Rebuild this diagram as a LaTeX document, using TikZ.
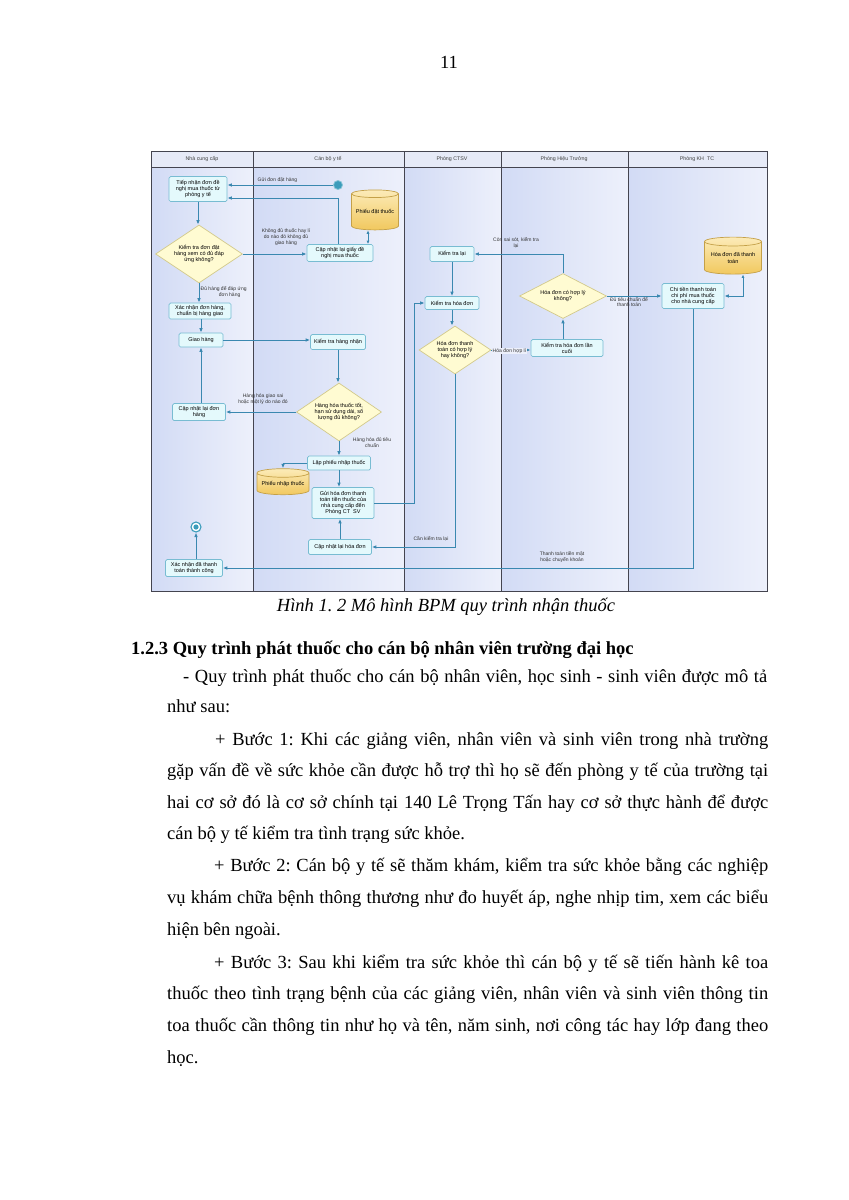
\documentclass[tikz,border=0pt]{standalone}
\usepackage{fontspec}
\setmainfont{Liberation Serif}
\newfontfamily\dfont{Liberation Sans}
\usetikzlibrary{shapes.geometric,arrows.meta}
\definecolor{laneL}{HTML}{D2DBF5}
\definecolor{laneR}{HTML}{EDF0FB}
\definecolor{hdrf}{HTML}{E6EAF7}
\definecolor{framec}{HTML}{44444F}
\definecolor{taskd}{HTML}{78BCD2}
\definecolor{taskf}{HTML}{E4F9FC}
\definecolor{decd}{HTML}{D2C98A}
\definecolor{decf}{HTML}{FFFBD2}
\definecolor{stored}{HTML}{C4A048}
\definecolor{storeT}{HTML}{FCEBB8}
\definecolor{storeB}{HTML}{F1C85E}
\definecolor{flowc}{HTML}{3A88B0}
\definecolor{startc}{HTML}{3B9CBB}
\frenchspacing
\begin{document}
\begin{tikzpicture}[x=1pt,y=-1pt,
  dtext/.style={font=\dfont\fontsize{5.5}{6.3}\selectfont},
  task/.style={dtext, draw=taskd, fill=taskf, rounded corners=1.5pt, line width=0.7pt, align=center, inner sep=0pt},
  decision/.style={dtext, diamond, draw=decd, fill=decf, line width=0.7pt, align=center, inner sep=0pt, aspect=1.5},
  store/.style={dtext, cylinder, shape border rotate=90, aspect=0.2, draw=stored, top color=storeT, bottom color=storeB, line width=0.7pt, align=center, inner sep=0pt},
  flow/.style={draw=flowc, line width=0.9pt, -{Latex[length=4.5pt,width=3.6pt]}},
  lbl/.style={font=\dfont\fontsize{5}{5.8}\selectfont, align=center, inner sep=0.5pt, text=black!80},
  hdr/.style={font=\dfont\fontsize{5.3}{6}\selectfont, text=black!75},
  body/.style={anchor=base west, inner sep=0pt, font=\fontsize{18.5}{22}\selectfont}
]
\useasboundingbox (0,0) rectangle (849,1200);
\fill[white] (0,0) rectangle (849,1200);

% page number
\node[anchor=base, inner sep=0pt, font=\fontsize{18.5}{22}\selectfont] (pg) at (449,68) {11};

% lanes
\foreach \a/\b in {151/253,253/404,404/501,501/628,628/767}{
  \shade[left color=laneL, right color=laneR] (\a,167) rectangle (\b,591);
}
\fill[hdrf] (151,151) rectangle (767,167);
\draw[framec, line width=1pt] (151,151) rectangle (767,591);
\draw[framec, line width=0.7pt] (151,167) -- (767,167);
\foreach \x in {253,404,501,628}{ \draw[framec, line width=1pt] (\x,151) -- (\x,591); }
\node[hdr] (h1) at (202,159) {Nhà cung cấp};
\node[hdr] (h2) at (328,159) {Cán bộ y tế};
\node[hdr] (h3) at (452,159) {Phòng CTSV};
\node[hdr] (h4) at (564,159) {Phòng Hiệu Trưởng};
\node[hdr] (h5) at (697,159) {Phòng KH\ \ TC};

% nodes - Nha cung cap
\node[task, minimum width=58, minimum height=25] (t1) at (198,189) {Tiếp nhận đơn đề\\nghị mua thuốc từ\\phòng y tế};
\node[decision, minimum width=87, minimum height=58] (d2) at (199,254) {Kiểm tra đơn đặt\\hàng xem có đủ đáp\\ứng không?};
\node[task, minimum width=62, minimum height=16] (t3) at (200,311) {Xác nhận đơn hàng,\\chuẩn bị hàng giao};
\node[task, minimum width=44, minimum height=14] (t4) at (201,340) {Giao hàng};
\node[task, minimum width=53, minimum height=17] (t5) at (199,412) {Cập nhật lại đơn\\hàng};
\node[task, minimum width=57, minimum height=17] (t6) at (194,568) {Xác nhận đã thanh\\toán thành công};
\node[circle, draw=startc, line width=1.1pt, fill=white, minimum size=10, inner sep=0pt] (end) at (196,527) {};
\fill[startc] (end.center) circle (2.6);

% Can bo y te
\node[circle, draw=startc!60, line width=0.8pt, fill=startc, minimum size=9, inner sep=0pt] (start) at (338,185) {};
\node[store, minimum width=47, minimum height=40] (c9) at (375,212) {Phiếu đặt thuốc};
\node[task, minimum width=66, minimum height=17] (t10) at (340,253) {Cập nhật lại giấy đề\\nghị mua thuốc};
\node[task, minimum width=55, minimum height=15] (t11) at (338,342) {Kiểm tra hàng nhận};
\node[decision, minimum width=85, minimum height=58] (d12) at (339,412) {Hàng hóa thuốc tốt,\\hạn sử dụng dài, số\\lượng đủ không?};
\node[task, minimum width=63, minimum height=14] (t13) at (339,463) {Lập phiếu nhập thuốc};
\node[store, minimum width=52, minimum height=26] (c14) at (283,484) {Phiếu nhập thuốc};
\node[task, minimum width=62, minimum height=31] (t15) at (343,503) {Gửi hóa đơn thanh\\toán tiền thuốc của\\nhà cung cấp đến\\Phòng CT\ \ SV};
\node[task, minimum width=63, minimum height=15] (t16) at (340,547) {Cập nhật lại hóa đơn};

% CTSV
\node[task, minimum width=44, minimum height=15] (t17) at (452,254) {Kiểm tra lại};
\node[task, minimum width=54, minimum height=13] (t18) at (452,303) {Kiểm tra hóa đơn};
\node[decision, minimum width=72, minimum height=48] (d19) at (455,350) {Hóa đơn thanh\\toán có hợp lý\\hay không?};

% Hieu truong
\node[decision, minimum width=87, minimum height=45] (d20) at (563,296) {Hóa đơn có hợp lý\\không?};
\node[task, minimum width=72, minimum height=17] (t21) at (567,348) {Kiểm tra hóa đơn lần\\cuối};

% KH TC
\node[task, minimum width=62, minimum height=25] (t22) at (693,296) {Chi tiền thanh toán\\chi phí mua thuốc\\cho nhà cung cấp};
\node[store, minimum width=57, minimum height=37] (c23) at (733,258) {Hóa đơn đã thanh\\toán};

% connectors
\draw[flow] (start.west) -- (start.west -| t1.east);
\node[lbl, anchor=south west] (la) at (257,183) {Gửi đơn đặt hàng};
\draw[flow] ([xshift=-2pt]t10.north) |- ([yshift=-9pt]t1.east);
\draw[flow] (t1.south) -- (t1.south |- d2.north);
\draw[flow] (d2.east) -- (d2.east -| t10.west);
\node[lbl] (lb) at (286,237) {Không đủ thuốc hay lí\\do nào đó không đủ\\giao hàng};
\draw[flow, {Latex[length=3.5pt,width=3pt]}-{Latex[length=3.5pt,width=3pt]}] ([xshift=28pt]t10.north) -- ([xshift=28pt]t10.north |- c9.south);
\draw[flow] (d2.south) -- (d2.south |- t3.north);
\node[lbl, anchor=west] (lc) at (200,292) {Đủ hàng để đáp ứng\\\hspace*{12pt}đơn hàng};
\draw[flow] (t3.south -| t4.north) -- (t4.north);
\draw[flow] (t4.east) -- (t4.east -| t11.west);
\draw[flow] (t11.south) -- (t11.south |- d12.north);
\draw[flow] (d12.west) -- (t5.east);
\node[lbl] (ld) at (263,399) {Hàng hóa giao sai\\hoặc một lý do nào đó};
\draw[flow] (t5.north -| t4.south) -- (t4.south);
\draw[flow] (d12.south) -- (d12.south |- t13.north);
\node[lbl] (le) at (372,443) {Hàng hóa đủ tiêu\\chuẩn};
\draw[flow] (t13.west) -| (c14.north);
\draw[flow] (t13.south) -- (t13.south |- t15.north);
\draw[flow] (t15.east) -- ++(40,0) |- (t18.west);
\draw[flow] (t17.south) -- (t17.south |- t18.north);
\draw[flow] (t18.south) -- (t18.south |- d19.north);
\draw[flow] (d19.east) -- (d19.east -| t21.west);
\node[lbl, fill=laneR, anchor=west] (lf) at (492,351) {Hóa đơn hợp lí};
\draw[flow] (t21.north -| d20.south) -- (d20.south);
\draw[flow] (d20.north) |- (t17.east);
\node[lbl] (lg) at (516,243) {Còn sai sót, kiểm tra\\lại};
\draw[flow] (d20.east) -- (t22.west);
\node[lbl] (lh) at (629,302) {Đủ tiêu chuẩn để\\thanh toán};
\draw[flow, {Latex[length=3.5pt,width=3pt]}-{Latex[length=4.5pt,width=3.6pt]}] ([xshift=10pt]c23.south) |- (t22.east);
\draw[flow] (t22.south) |- (t6.east);
\node[lbl] (li) at (562,557) {Thanh toán tiền mặt\\hoặc chuyển khoản};
\draw[flow] (d19.south) |- (t16.east);
\node[lbl] (lj) at (431,539) {Cần kiểm tra lại};
\draw[flow] (t16.north) -- (t16.north |- t15.south);
\draw[flow] (t6.north -| end) -- (end.south);

% caption and text
\node[anchor=base, inner sep=0pt, font=\itshape\fontsize{18.5}{22}\selectfont] (cap) at (446,611) {Hình 1. 2 Mô hình BPM quy trình nhận thuốc};
\node[body, font=\bfseries\fontsize{18.5}{22}\selectfont] (sec) at (131,654) {1.2.3 Quy trình phát thuốc cho cán bộ nhân viên trường đại học};
\node[body] (p1) at (183,682) {\makebox[584pt][s]{- Quy trình phát thuốc cho cán bộ nhân viên, học sinh - sinh viên được mô tả}};
\node[body] (p2) at (167,712) {như sau:};
\node[body] (p3) at (215,745) {\makebox[553pt][s]{+ Bước 1: Khi các giảng viên, nhân viên và sinh viên trong nhà trường}};
\node[body] (p4) at (167,776) {\makebox[601pt][s]{gặp vấn đề về sức khỏe cần được hỗ trợ thì họ sẽ đến phòng y tế của trường tại}};
\node[body] (p5) at (167,808) {\makebox[601pt][s]{hai cơ sở đó là cơ sở chính tại 140 Lê Trọng Tấn hay cơ sở thực hành để được}};
\node[body] (p6) at (167,839) {cán bộ y tế kiểm tra tình trạng sức khỏe.};
\node[body] (p7) at (214,871) {\makebox[554pt][s]{+ Bước 2: Cán bộ y tế sẽ thăm khám, kiểm tra sức khỏe bằng các nghiệp}};
\node[body] (p8) at (167,903) {\makebox[601pt][s]{vụ khám chữa bệnh thông thương như đo huyết áp, nghe nhịp tim, xem các biểu}};
\node[body] (p9) at (167,935) {hiện bên ngoài.};
\node[body] (p10) at (214,968) {\makebox[554pt][s]{+ Bước 3: Sau khi kiểm tra sức khỏe thì cán bộ y tế sẽ tiến hành kê toa}};
\node[body] (p11) at (167,999) {\makebox[601pt][s]{thuốc theo tình trạng bệnh của các giảng viên, nhân viên và sinh viên thông tin}};
\node[body] (p12) at (167,1031) {\makebox[601pt][s]{toa thuốc cần thông tin như họ và tên, năm sinh, nơi công tác hay lớp đang theo}};
\node[body] (p13) at (167,1063) {học.};
\end{tikzpicture}
\end{document}
